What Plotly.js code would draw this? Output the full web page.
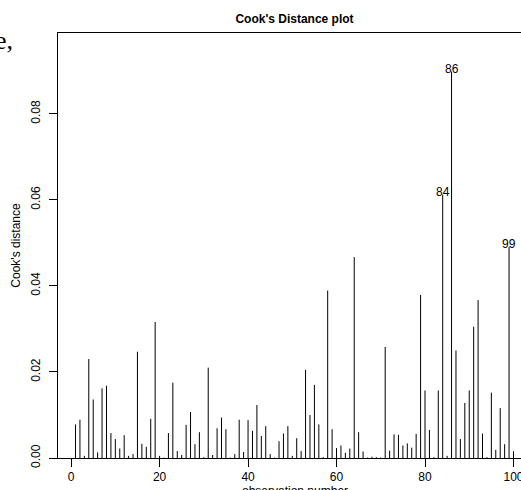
<!DOCTYPE html>
<html>
<head>
<meta charset="utf-8">
<script src="https://cdn.plot.ly/plotly-3.0.1.min.js"></script>
<style>
  html, body { margin: 0; padding: 0; background: #ffffff; overflow: hidden; }
  #chart { width: 521px; height: 490px; }
</style>
</head>
<body>
<div id="chart"></div>
<script>
// Cook's distance for each observation, in observation order (1..100)
const observations = Array.from({length: 100}, (_, i) => i + 1);
const cooksDistance = [
  0.0078, 0.0089, 0.0005, 0.0230, 0.0136, 0.0013, 0.0162, 0.0168, 0.0058, 0.0044,
  0.0022, 0.0053, 0.0005, 0.0009, 0.0247, 0.0033, 0.0026, 0.0091, 0.0316, 0.0005,
  0.0001, 0.0058, 0.0175, 0.0016, 0.0007, 0.0077, 0.0107, 0.0032, 0.0060, 0.0002,
  0.0210, 0.0007, 0.0069, 0.0094, 0.0067, 0.0001, 0.0009, 0.0089, 0.0014, 0.0088,
  0.0063, 0.0123, 0.0051, 0.0074, 0.0009, 0.0001, 0.0039, 0.0057, 0.0074, 0.0005,
  0.0046, 0.0016, 0.0205, 0.0100, 0.0170, 0.0078, 0.0002, 0.0389, 0.0067, 0.0023,
  0.0029, 0.0012, 0.0022, 0.0467, 0.0060, 0.0015, 0.0001, 0.0003, 0.0002, 0.0001,
  0.0258, 0.0017, 0.0055, 0.0054, 0.0029, 0.0034, 0.0024, 0.0056, 0.0379, 0.0157,
  0.0065, 0.0002, 0.0157, 0.0612, 0.0005, 0.0898, 0.0250, 0.0044, 0.0128, 0.0157,
  0.0305, 0.0367, 0.0057, 0.0002, 0.0152, 0.0019, 0.0116, 0.0032, 0.0491, 0.0016
];
// Observations singled out with their number
const flagged = [84, 86, 99];

const xTicks = [0, 20, 40, 60, 80, 100];
const yTicks = [0, 0.02, 0.04, 0.06, 0.08];

// Vertical "h"-type spikes: one segment from zero to the value per observation
const segX = [], segY = [];
observations.forEach((obs, i) => {
  segX.push(obs, obs, null);
  segY.push(0, cooksDistance[i], null);
});

const spikes = {
  type: 'scatter',
  mode: 'lines',
  x: segX,
  y: segY,
  line: { color: '#000000', width: 1 },
  hoverinfo: 'skip',
  showlegend: false,
  cliponaxis: false
};

const FONT = 'Liberation Sans, Arial, sans-serif';

const labelNotes = flagged.map(obs => ({
  x: obs,
  y: cooksDistance[obs - 1],
  xref: 'x', yref: 'y',
  text: String(obs),
  showarrow: false,
  xanchor: 'center',
  yanchor: 'middle',
  yshift: 3,
  font: { family: FONT, size: 12, color: '#000000' }
}));

const yMax = Math.max(...cooksDistance) * 1.1;

const layout = {
  width: 521,
  height: 490,
  margin: { l: 58, r: 0, t: 33, b: 32, pad: 0 },
  paper_bgcolor: '#ffffff',
  plot_bgcolor: '#ffffff',
  showlegend: false,
  title: {
    text: "<b>Cook's Distance plot</b>",
    font: { family: FONT, size: 12, color: '#000000' },
    x: 294.5 / 521,
    xref: 'container',
    xanchor: 'center',
    y: 1 - 19 / 490,
    yref: 'container',
    yanchor: 'middle'
  },
  xaxis: {
    range: [-2.96, 101.7],
    tickmode: 'array',
    tickvals: xTicks,
    ticktext: xTicks.map(String),
    ticklabeloverflow: 'allow',
    ticks: 'outside',
    ticklen: 8,
    tickwidth: 1,
    tickcolor: '#000000',
    showline: true,
    linecolor: '#000000',
    linewidth: 1,
    mirror: true,
    showgrid: false,
    zeroline: false,
    tickfont: { family: FONT, size: 12, color: '#000000' }
  },
  yaxis: {
    range: [0, yMax],
    tickmode: 'array',
    tickvals: yTicks,
    ticktext: yTicks.map(v => v.toFixed(2)),
    ticklabeloverflow: 'allow',
    tickangle: -90,
    ticklabelstandoff: 4,
    ticks: 'outside',
    ticklen: 8,
    tickwidth: 1,
    tickcolor: '#000000',
    showline: true,
    linecolor: '#000000',
    linewidth: 1,
    mirror: false,
    showgrid: false,
    zeroline: false,
    tickfont: { family: FONT, size: 12, color: '#000000' },
    title: {
      text: "Cook's distance",
      font: { family: FONT, size: 12, color: '#000000' },
      standoff: 6
    }
  },
  annotations: [
    ...labelNotes,
    {
      // x-axis caption, centred under the full plotting region
      xref: 'paper', yref: 'paper',
      x: (294.5 - 58) / 463, y: 0,
      yshift: -24,
      xanchor: 'center', yanchor: 'top',
      text: 'observation number',
      showarrow: false,
      font: { family: FONT, size: 12, color: '#000000' }
    },
    {
      // trailing text of the surrounding page at the upper left
      xref: 'paper', yref: 'paper',
      x: (15 - 58) / 463, y: (458 - 40) / 425,
      xanchor: 'right', yanchor: 'middle',
      text: 'e,',
      showarrow: false,
      font: { family: 'Liberation Serif, DejaVu Serif, serif', size: 26, color: '#000000' }
    }
  ]
};

Plotly.newPlot('chart', [spikes], layout, { staticPlot: true, displayModeBar: false });
</script>
</body>
</html>
